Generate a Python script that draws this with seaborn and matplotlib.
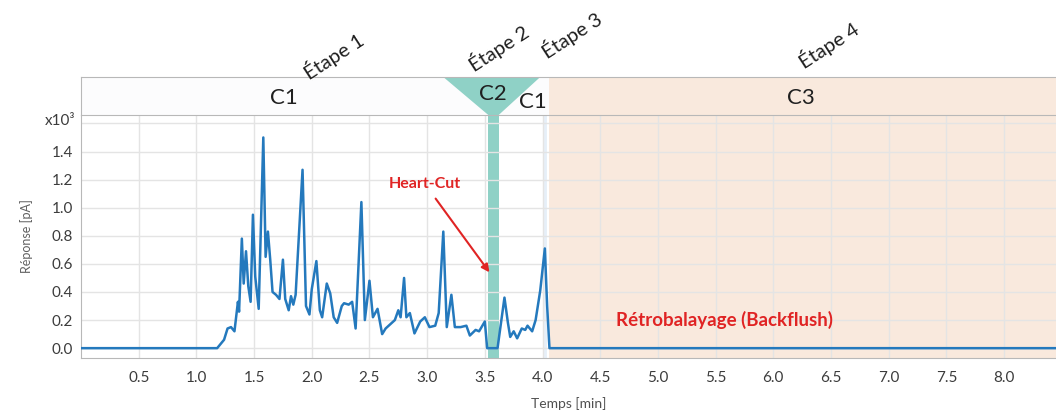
import pandas as pd
import seaborn as sns
import matplotlib.pyplot as plt

# chromatogram, signal in x10^3 pA
temps = [0.0, 1.18, 1.24, 1.27, 1.30, 1.33, 1.36, 1.37, 1.394, 1.41, 1.43, 1.45, 1.47, 1.49,
         1.51, 1.54, 1.58, 1.60, 1.62, 1.64, 1.66, 1.69, 1.72, 1.75, 1.77, 1.80, 1.82, 1.84,
         1.86, 1.92, 1.95, 1.98, 2.00, 2.04, 2.07, 2.09, 2.13, 2.16, 2.19, 2.22, 2.26, 2.28,
         2.32, 2.35, 2.38, 2.43, 2.46, 2.50, 2.53, 2.57, 2.61, 2.64, 2.68, 2.72, 2.75, 2.77,
         2.80, 2.82, 2.85, 2.89, 2.94, 2.98, 3.02, 3.07, 3.10, 3.14, 3.17, 3.21, 3.24, 3.29,
         3.34, 3.37, 3.42, 3.45, 3.50, 3.52, 3.61, 3.64, 3.67, 3.70, 3.72, 3.75, 3.78, 3.82,
         3.85, 3.87, 3.91, 3.94, 3.98, 4.02, 4.04, 4.06, 8.45]
reponse = [0.0, 0.0, 0.06, 0.14, 0.15, 0.12, 0.33, 0.26, 0.78, 0.46, 0.69, 0.44, 0.33, 0.95,
           0.51, 0.28, 1.50, 0.65, 0.83, 0.63, 0.40, 0.38, 0.35, 0.63, 0.35, 0.27, 0.37, 0.31,
           0.38, 1.27, 0.30, 0.24, 0.42, 0.62, 0.27, 0.22, 0.46, 0.39, 0.22, 0.18, 0.30, 0.32,
           0.31, 0.33, 0.14, 1.04, 0.20, 0.48, 0.22, 0.28, 0.10, 0.14, 0.17, 0.20, 0.27, 0.22,
           0.50, 0.22, 0.25, 0.105, 0.19, 0.22, 0.15, 0.16, 0.25, 0.83, 0.15, 0.38, 0.15, 0.15,
           0.16, 0.09, 0.13, 0.12, 0.19, 0.0, 0.0, 0.18, 0.36, 0.18, 0.08, 0.12, 0.07, 0.14,
           0.13, 0.16, 0.12, 0.20, 0.41, 0.71, 0.30, 0.0, 0.0]

x_ticks = [0.5, 1.0, 1.5, 2.0, 2.5, 3.0, 3.5, 4.0, 4.5, 5.0, 5.5, 6.0, 6.5, 7.0, 7.5, 8.0]
y_ticks = [0.0, 0.2, 0.4, 0.6, 0.8, 1.0, 1.2, 1.4]

# column phases
cut_start, cut_end = 3.53, 3.62       # heart-cut window
funnel_left, funnel_right = 3.14, 3.98
backflush_start = 4.06
t_max = 8.45

stages = ['Étape 1', 'Étape 2', 'Étape 3', 'Étape 4']
stage_x = [2.19, 3.62, 4.25, 6.48]
stage_y = [1.55, 1.78, 2.12, 1.85]
columns = ['C1', 'C2', 'C1', 'C3']
column_x = [1.76, 3.57, 3.92, 6.24]
column_y = [0.45, 0.55, 0.35, 0.45]

df = pd.DataFrame({'Temps': temps, 'Reponse': reponse})

sns.set_style('whitegrid')
plt.rcParams['font.family'] = ['Lato', 'DejaVu Sans']

grey = '#3c3c3c'
red = '#e02424'
teal = '#8fd1c6'
peach = '#f9e9dd'
spine = '#b8b8b8'

fig = plt.figure(figsize=(10.56, 4.15), dpi=100)
ax = fig.add_axes([81 / 1056, 57 / 415, 975 / 1056, 243 / 415])
hax = fig.add_axes([81 / 1056, 300 / 415, 975 / 1056, 38 / 415], sharex=ax)

ax.axvspan(backflush_start, t_max, color=peach, lw=0, zorder=0)
ax.axvspan(cut_start, cut_end, color=teal, lw=0, zorder=0.5)
ax.axvline(4.02, color='#e6eff8', lw=2, zorder=0.4)
sns.lineplot(data=df, x='Temps', y='Reponse', ax=ax, color='#2479bd', lw=1.8, zorder=3)

ax.set_xlim(0, t_max)
ax.set_ylim(-0.07, 1.66)
ax.set_xticks(x_ticks)
ax.set_xticklabels([f'{v:.1f}' for v in x_ticks])
ax.set_yticks(y_ticks + [1.6])
ax.set_yticklabels([f'{v:.1f}' for v in y_ticks] + [''])
ax.tick_params(length=0, labelsize=11, labelcolor=grey)
ax.tick_params(axis='x', pad=9)
ax.tick_params(axis='y', pad=6)
ax.grid(color='#e4e4e4', lw=1)
ax.set_axisbelow(True)
for side in ['top', 'right']:
    ax.spines[side].set_visible(False)
for side in ['left', 'bottom']:
    ax.spines[side].set_color(spine)
ax.set_xlabel('Temps [min]', fontsize=10, color='#505050', labelpad=9)
ax.set_ylabel('Réponse [pA]', fontsize=9, color='#606060', labelpad=13)
ax.text(-0.006, 0.975, 'x10³', transform=ax.transAxes, ha='right', va='center',
        fontsize=11, color=grey)

ax.annotate('Heart-Cut', xy=(3.54, 0.54), xytext=(2.98, 1.17), ha='center', va='center',
            fontsize=11.5, fontweight='bold', color=red,
            arrowprops=dict(arrowstyle='-|>', color=red, lw=1.5, shrinkA=4, shrinkB=0))
ax.text(5.58, 0.2, 'Rétrobalayage (Backflush)', ha='center', va='center',
        fontsize=13.5, fontweight='bold', color=red)

# header band with column labels
hax.set_facecolor('#fcfcfd')
hax.set_ylim(0, 1)
hax.axvspan(backflush_start, t_max, color=peach, lw=0, zorder=0)
hax.fill([funnel_left, funnel_right, cut_end, cut_start], [1, 1, 0, 0], color=teal, lw=0)
hax.grid(False)
hax.tick_params(left=False, bottom=False, labelleft=False, labelbottom=False)
for side in ['top', 'left', 'bottom']:
    hax.spines[side].set_color(spine)
hax.spines['right'].set_visible(False)
for lab, x, y in zip(columns, column_x, column_y):
    hax.text(x, y, lab, ha='center', va='center', fontsize=16, color='#202020')
for lab, x, y in zip(stages, stage_x, stage_y):
    hax.text(x, y, lab, ha='center', va='center', rotation=33, fontsize=14.5,
             color='#202020', clip_on=False)

fig.savefig('out.png', dpi=100)
